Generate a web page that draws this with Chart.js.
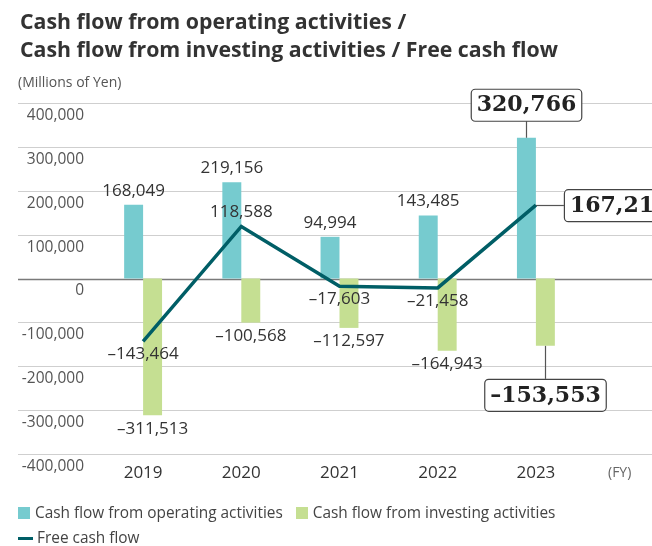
<!DOCTYPE html>
<html><head><meta charset="utf-8">
<script src="https://cdn.jsdelivr.net/npm/chart.js@4"></script>
<style>
html,body{margin:0;padding:0;background:#fff;}
#wrap{position:relative;width:652px;height:546px;overflow:hidden;font-family:"Open Sans",sans-serif;}
#c{position:absolute;left:0;top:0;}
.title{position:absolute;left:20px;top:7px;font-weight:700;font-size:21.3px;line-height:28px;color:#333;white-space:nowrap;}
.unit{position:absolute;left:18px;top:73px;font-size:14px;line-height:18px;color:#555;white-space:nowrap;}
.fy{position:absolute;left:608px;top:463px;font-size:14px;line-height:18px;color:#666;}
.row{position:absolute;left:18px;height:20px;font-size:15.4px;line-height:20px;color:#444;white-space:nowrap;display:flex;align-items:center;}
.li{display:inline-flex;align-items:center;margin-right:13px;}
.sw{display:inline-block;width:12px;height:12px;margin-right:5px;}
.ln{display:inline-block;width:15px;height:3px;margin-right:4px;}
</style></head>
<body>
<div id="wrap">
<canvas id="c" width="652" height="546"></canvas>
<div class="title">Cash flow from operating activities /<br>Cash flow from investing activities / Free cash flow</div>
<div class="unit">(Millions of Yen)</div>
<div class="fy">(FY)</div>
<div class="row" id="lg1" style="top:503px"></div>
<div class="row" id="lg2" style="top:528px"></div>
</div>
<script>
const categories = ['2019', '2020', '2021', '2022', '2023'];
const operatingCF = [168049, 219156, 94994, 143485, 320766];
const investingCF = [-311513, -100568, -112597, -164943, -153553];
const freeCF = [-143464, 118588, -17603, -21458, 167213];
const yTickValues = [-400000, -300000, -200000, -100000, 0, 100000, 200000, 300000, 400000];
const seriesNames = ['Cash flow from operating activities', 'Cash flow from investing activities', 'Free cash flow'];
const calloutIndex = 4;

const COL_OP = '#76cbcf', COL_INV = '#c5df92', COL_FCF = '#005e66';

function fmtData(v){ return (v < 0 ? '\u2013' : '') + Math.abs(v).toLocaleString('en-US'); }
function fmtTick(v){ return (v < 0 ? '-' : '') + Math.abs(v).toLocaleString('en-US'); }

const gridPlugin = {
  id: 'fullGrid',
  beforeDatasetsDraw(chart){
    const ctx = chart.ctx, y = chart.scales.y;
    ctx.save();
    yTickValues.forEach(v => {
      const py = Math.round(y.getPixelForValue(v)) + 0.5;
      ctx.beginPath();
      ctx.strokeStyle = v === 0 ? '#7a7a7a' : '#cfcfcf';
      ctx.lineWidth = v === 0 ? 1.3 : 1.2;
      ctx.moveTo(18, py); ctx.lineTo(chart.width, py);
      ctx.stroke();
    });
    ctx.restore();
  }
};

function callout(ctx, text, x, y, anchor){
  ctx.font = 'bold 22px "DejaVu Serif", serif';
  const w = ctx.measureText(text).width + 11, h = 32;
  let bx, by;
  if (anchor === 'bottom'){ bx = x - w/2; by = y - h; }
  else if (anchor === 'top'){ bx = x - w/2; by = y; }
  else { bx = x; by = y - h/2; }
  ctx.beginPath();
  ctx.roundRect(bx + 0.5, by + 0.5, w, h, 4);
  ctx.fillStyle = '#fff'; ctx.fill();
  ctx.strokeStyle = '#444'; ctx.lineWidth = 1.2; ctx.stroke();
  ctx.fillStyle = '#222'; ctx.textAlign = 'center'; ctx.textBaseline = 'middle';
  ctx.fillText(text, bx + w/2 + 0.5, by + h/2 + 1);
}

const labelPlugin = {
  id: 'valueLabels',
  afterDatasetsDraw(chart){
    const ctx = chart.ctx;
    const mOp = chart.getDatasetMeta(0), mInv = chart.getDatasetMeta(1), mF = chart.getDatasetMeta(2);
    ctx.save();
    ctx.font = '17px "Open Sans", sans-serif';
    ctx.fillStyle = '#333'; ctx.textAlign = 'center'; ctx.textBaseline = 'middle';
    operatingCF.forEach((v, i) => {
      if (i === calloutIndex) return;
      const el = mOp.data[i];
      ctx.fillText(fmtData(v), el.x, el.y - 14);
    });
    investingCF.forEach((v, i) => {
      if (i === calloutIndex) return;
      const el = mInv.data[i];
      ctx.fillText(fmtData(v), el.x, el.y + 13.5);
    });
    freeCF.forEach((v, i) => {
      if (i === calloutIndex) return;
      const el = mF.data[i];
      ctx.fillText(fmtData(v), el.x, v < 0 ? el.y + 13 : el.y - 14);
    });
    ctx.strokeStyle = '#555'; ctx.lineWidth = 1.2;
    const eo = mOp.data[calloutIndex], ei = mInv.data[calloutIndex], ef = mF.data[calloutIndex];
    ctx.beginPath(); ctx.moveTo(Math.round(eo.x)+0.5, eo.y); ctx.lineTo(Math.round(eo.x)+0.5, eo.y - 17); ctx.stroke();
    ctx.beginPath(); ctx.moveTo(Math.round(ei.x)+0.5, ei.y); ctx.lineTo(Math.round(ei.x)+0.5, ei.y + 33); ctx.stroke();
    ctx.beginPath(); ctx.moveTo(ef.x, Math.round(ef.y)+0.5); ctx.lineTo(ef.x + 28, Math.round(ef.y)+0.5); ctx.stroke();
    callout(ctx, fmtData(operatingCF[calloutIndex]), Math.round(eo.x), eo.y - 17, 'bottom');
    callout(ctx, fmtData(investingCF[calloutIndex]), Math.round(ei.x), ei.y + 33, 'top');
    callout(ctx, fmtData(freeCF[calloutIndex]), ef.x + 28, ef.y, 'left');
    ctx.restore();
  }
};

new Chart(document.getElementById('c'), {
  type: 'bar',
  data: {
    labels: categories,
    datasets: [
      { label: seriesNames[0], data: operatingCF, backgroundColor: COL_OP, order: 1,
        categoryPercentage: 0.386, barPercentage: 1.0 },
      { label: seriesNames[1], data: investingCF, backgroundColor: COL_INV, order: 1,
        categoryPercentage: 0.386, barPercentage: 1.0 },
      { label: seriesNames[2], data: freeCF, type: 'line', borderColor: COL_FCF, backgroundColor: COL_FCF,
        borderWidth: 3.5, pointRadius: 0, pointHoverRadius: 0, tension: 0, order: 0,
        borderJoinStyle: 'miter', fill: false }
    ]
  },
  options: {
    responsive: false, animation: false, devicePixelRatio: 1,
    layout: { padding: { left: 0, right: 67, top: 103, bottom: 52 } },
    plugins: { legend: { display: false }, tooltip: { enabled: false }, title: { display: false } },
    scales: {
      x: {
        grid: { display: false, drawTicks: false }, border: { display: false },
        ticks: { color: '#333', font: { family: '"Open Sans", sans-serif', size: 17 }, padding: 9, maxRotation: 0 },
        afterFit(s){ s.height = 40; }
      },
      y: {
        min: -400000, max: 400000,
        grid: { display: false, drawTicks: false }, border: { display: false },
        afterBuildTicks(s){ s.ticks = yTickValues.map(v => ({ value: v })); },
        ticks: { color: '#555', font: { family: '"Open Sans", sans-serif', size: 15.5 }, padding: 10,
          labelOffset: 12.5, callback: v => fmtTick(v) },
        afterFit(s){ s.width = 94; }
      }
    }
  },
  plugins: [gridPlugin, labelPlugin]
});

// HTML legend from series definitions
const legendItems = [
  { name: seriesNames[0], color: COL_OP, kind: 'sw', row: 'lg1' },
  { name: seriesNames[1], color: COL_INV, kind: 'sw', row: 'lg1' },
  { name: seriesNames[2], color: COL_FCF, kind: 'ln', row: 'lg2' }
];
legendItems.forEach(it => {
  const d = document.createElement('span'); d.className = 'li';
  const s = document.createElement('span'); s.className = it.kind; s.style.background = it.color;
  d.appendChild(s); d.appendChild(document.createTextNode(it.name));
  document.getElementById(it.row).appendChild(d);
});
</script>
</body></html>
